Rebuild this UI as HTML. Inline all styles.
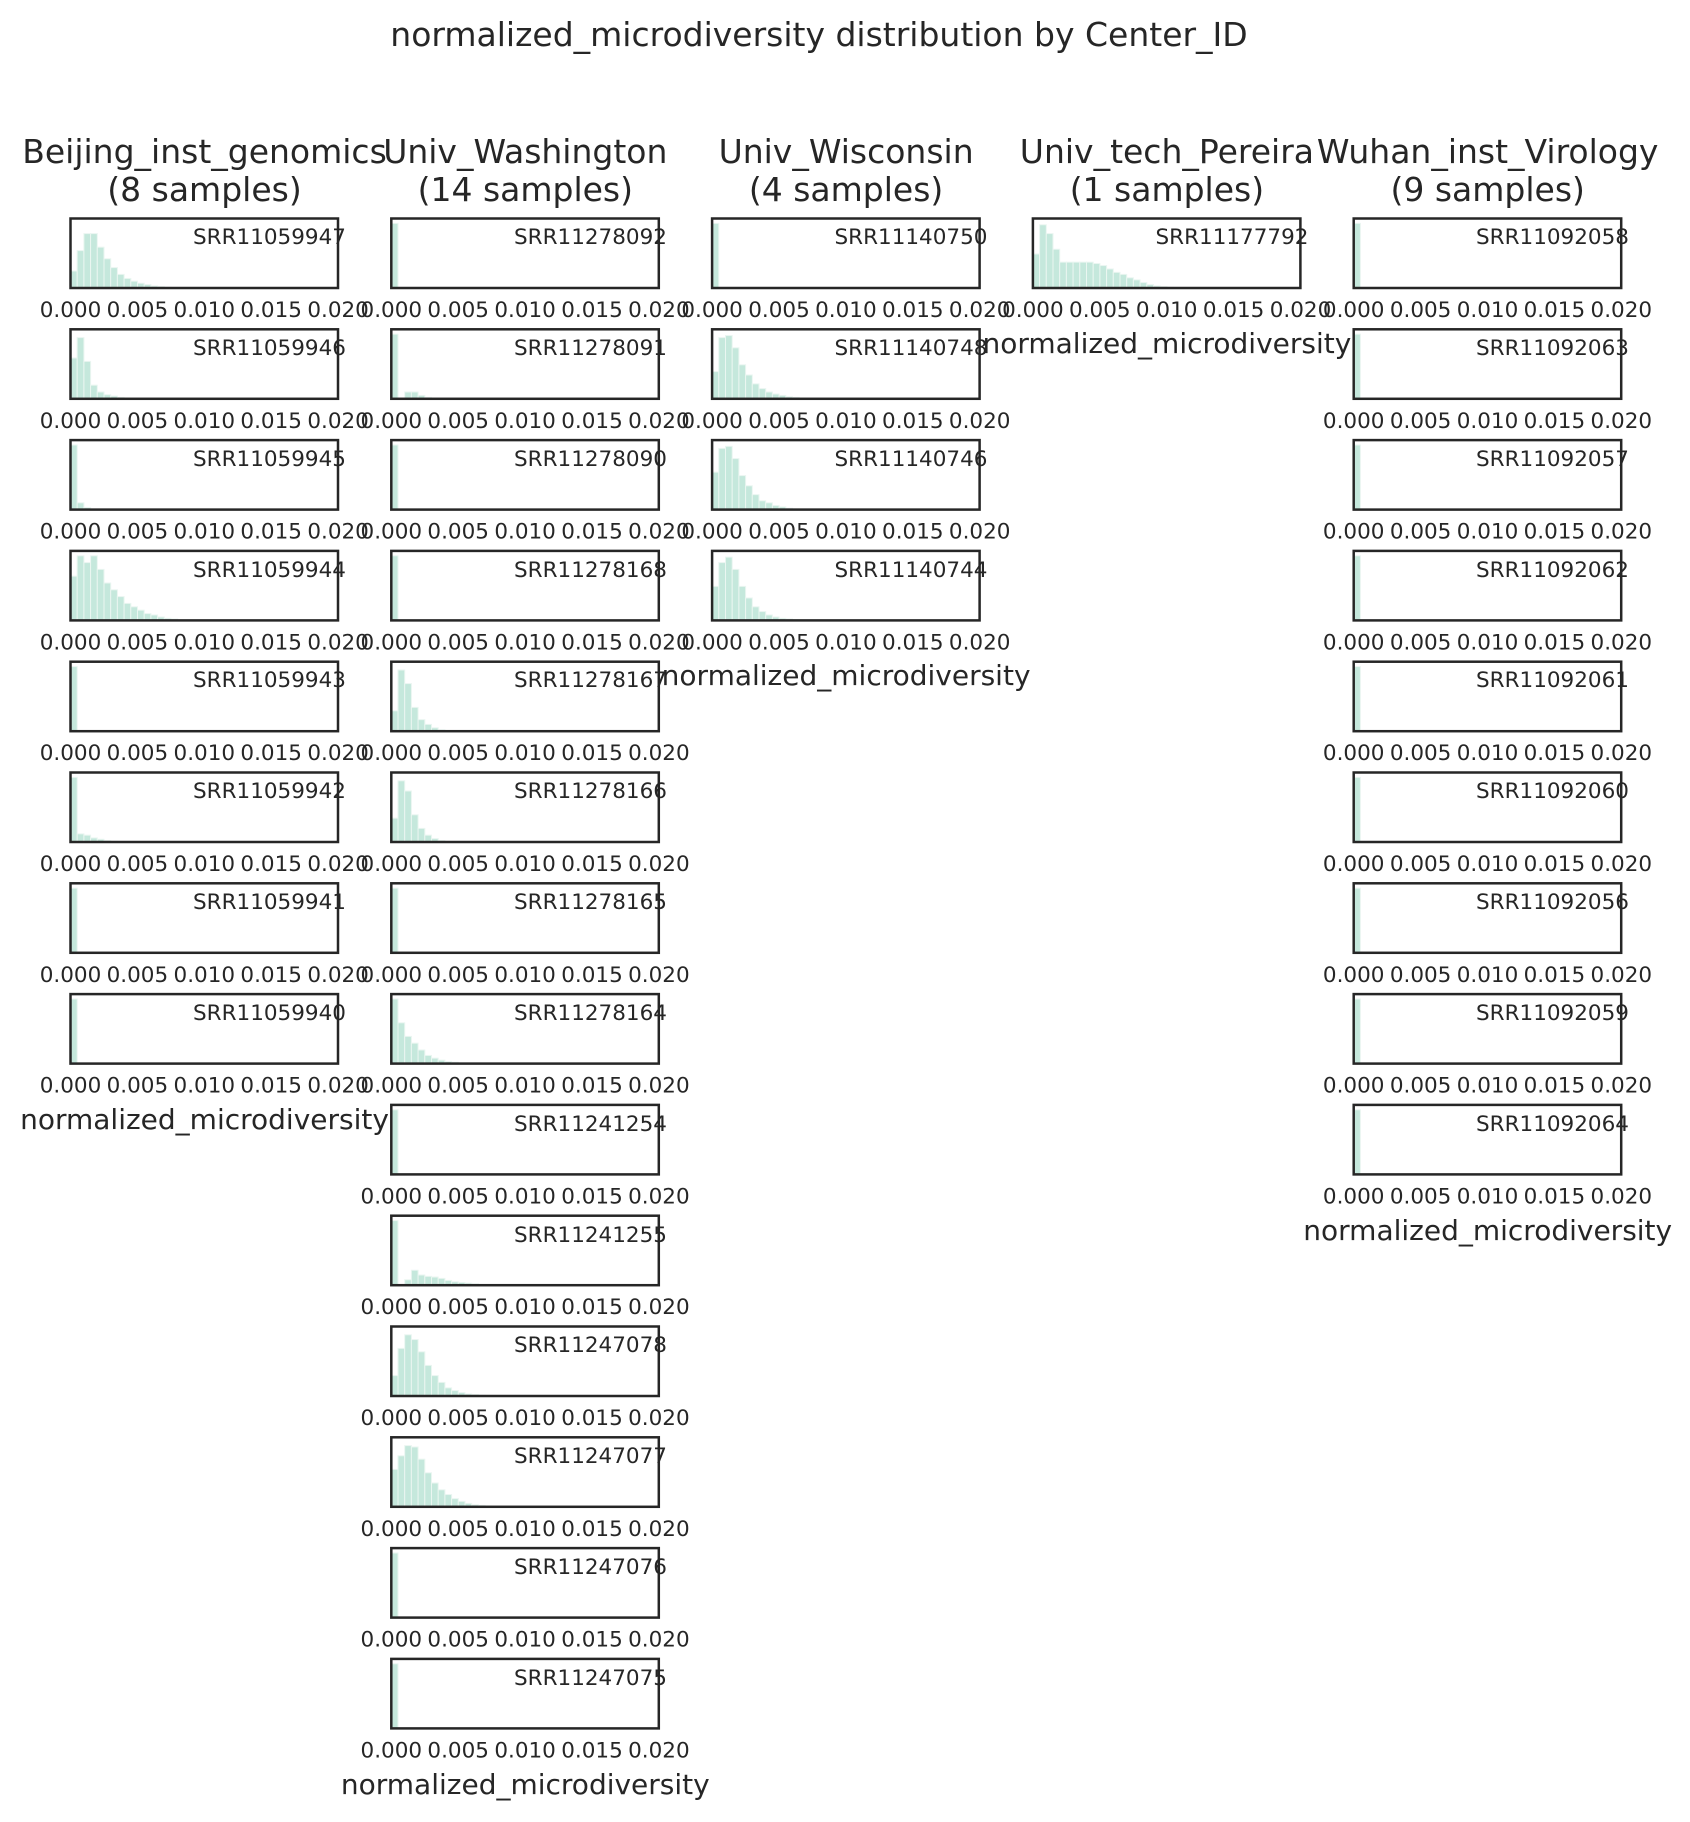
<!DOCTYPE html>
<html><head><meta charset="utf-8"><style>
html,body{margin:0;padding:0;background:#fff;}
svg{display:block;}
text{font-family:"DejaVu Sans","Liberation Sans",sans-serif;fill:#262626;}
</style></head><body>
<svg id="s" width="1690" height="1822" xmlns="http://www.w3.org/2000/svg">
<rect width="1690" height="1822" fill="#fff"/>
<text x="819" y="46" font-size="33" text-anchor="middle">normalized_microdiversity distribution by Center_ID</text>
<g font-size="33" text-anchor="middle">
<text x="204.5" y="163">Beijing_inst_genomics</text><text x="204.5" y="201">(8 samples)</text>
<text x="525.3" y="163">Univ_Washington</text><text x="525.3" y="201">(14 samples)</text>
<text x="846.1" y="163">Univ_Wisconsin</text><text x="846.1" y="201">(4 samples)</text>
<text x="1166.9" y="163">Univ_tech_Pereira</text><text x="1166.9" y="201">(1 samples)</text>
<text x="1487.7" y="163">Wuhan_inst_Virology</text><text x="1487.7" y="201">(9 samples)</text>
</g>
<g id="bars"></g>
<g id="boxes" fill="none" stroke="#262626" stroke-width="2.5"></g>
<g font-size="28" text-anchor="middle">
<text x="204.5" y="1129">normalized_microdiversity</text>
<text x="525.3" y="1794">normalized_microdiversity</text>
<text x="846.1" y="685">normalized_microdiversity</text>
<text x="1166.9" y="353">normalized_microdiversity</text>
<text x="1487.7" y="1240">normalized_microdiversity</text>
</g>
<g font-size="21.5" fill="#262626">
<text x="193" y="244">SRR11059947</text><text x="193" y="355">SRR11059946</text><text x="193" y="466">SRR11059945</text><text x="193" y="577">SRR11059944</text><text x="193" y="687">SRR11059943</text><text x="193" y="798">SRR11059942</text><text x="193" y="909">SRR11059941</text><text x="193" y="1020">SRR11059940</text>
<text x="514" y="244">SRR11278092</text><text x="514" y="355">SRR11278091</text><text x="514" y="466">SRR11278090</text><text x="514" y="577">SRR11278168</text><text x="514" y="687">SRR11278167</text><text x="514" y="798">SRR11278166</text><text x="514" y="909">SRR11278165</text><text x="514" y="1020">SRR11278164</text><text x="514" y="1131">SRR11241254</text><text x="514" y="1242">SRR11241255</text><text x="514" y="1352">SRR11247078</text><text x="514" y="1463">SRR11247077</text><text x="514" y="1574">SRR11247076</text><text x="514" y="1685">SRR11247075</text>
<text x="834.5" y="244">SRR11140750</text><text x="834.5" y="355">SRR11140748</text><text x="834.5" y="466">SRR11140746</text><text x="834.5" y="577">SRR11140744</text>
<text x="1155.5" y="244">SRR11177792</text>
<text x="1476" y="244">SRR11092058</text><text x="1476" y="355">SRR11092063</text><text x="1476" y="466">SRR11092057</text><text x="1476" y="577">SRR11092062</text><text x="1476" y="687">SRR11092061</text><text x="1476" y="798">SRR11092060</text><text x="1476" y="909">SRR11092056</text><text x="1476" y="1020">SRR11092059</text><text x="1476" y="1131">SRR11092064</text>
</g>
<g id="ticks" font-size="21.5" text-anchor="middle"></g>
</svg>
<script>
var S=[.95];
var cols=[
[[.25,.55,.8,.8,.6,.43,.3,.2,.14,.1,.07,.05,.03,.02,.01],[.6,.9,.55,.2,.1,.06,.04,.02,.01],[.95,.1,.03],[.65,.95,.85,.95,.75,.55,.45,.35,.25,.2,.15,.1,.08,.05,.03,.02],S,[.95,.12,.1,.06,.04,.02,.01],S,S],
[S,[.95,0,.1,.1,.05,.02],S,S,[.3,.9,.7,.35,.17,.1,.05,.02],[.35,.9,.75,.4,.2,.1,.05,.02],S,[.95,.6,.4,.3,.2,.12,.08,.05,.03,.02],S,[.95,0,.08,.22,.15,.13,.12,.1,.07,.05,.04,.03,.02,.01],[.3,.7,.9,.83,.65,.45,.3,.2,.12,.08,.05,.03,.02,.01],[.55,.75,.9,.88,.7,.5,.35,.25,.18,.12,.08,.05,.03,.02,.01],S,S],
[S,[.4,.9,.93,.75,.5,.35,.22,.15,.1,.07,.05,.03,.02,.01],[.55,.9,.93,.75,.5,.35,.22,.13,.1,.06,.04,.02,.01],[.5,.85,.93,.75,.5,.33,.2,.13,.08,.05,.03,.02,.01]],
[[.5,.93,.8,.57,.38,.38,.38,.38,.38,.36,.33,.28,.23,.2,.15,.12,.08,.05,.03,.02,.01]],
[S,S,S,S,S,S,S,S,S]];
var NS="http://www.w3.org/2000/svg";
var bars=document.getElementById('bars'),boxes=document.getElementById('boxes'),ticks=document.getElementById('ticks');
var tl=['0.000','0.005','0.010','0.015','0.020'];
function el(n,a,p){var e=document.createElementNS(NS,n);for(var k in a)e.setAttribute(k,a[k]);p.appendChild(e);return e;}
cols.forEach(function(c,ci){var L=70.5+320.8*ci;c.forEach(function(h,ri){var T=218.5+110.8*ri,B=T+69.5,bw=6.7;
h.forEach(function(v,i){if(v<=0)return;var hh=v*68;el('rect',{x:L+i*bw,y:B-hh,width:bw,height:hh,fill:'#c5e8dc',stroke:'#eaf6f1','stroke-width':1},bars);});
el('rect',{x:L,y:T,width:267.5,height:69.5},boxes);
for(var i=0;i<5;i++){var t=el('text',{x:L+66.9*i,y:T+98.5},ticks);t.textContent=tl[i];}
});});
</script>
</body></html>
